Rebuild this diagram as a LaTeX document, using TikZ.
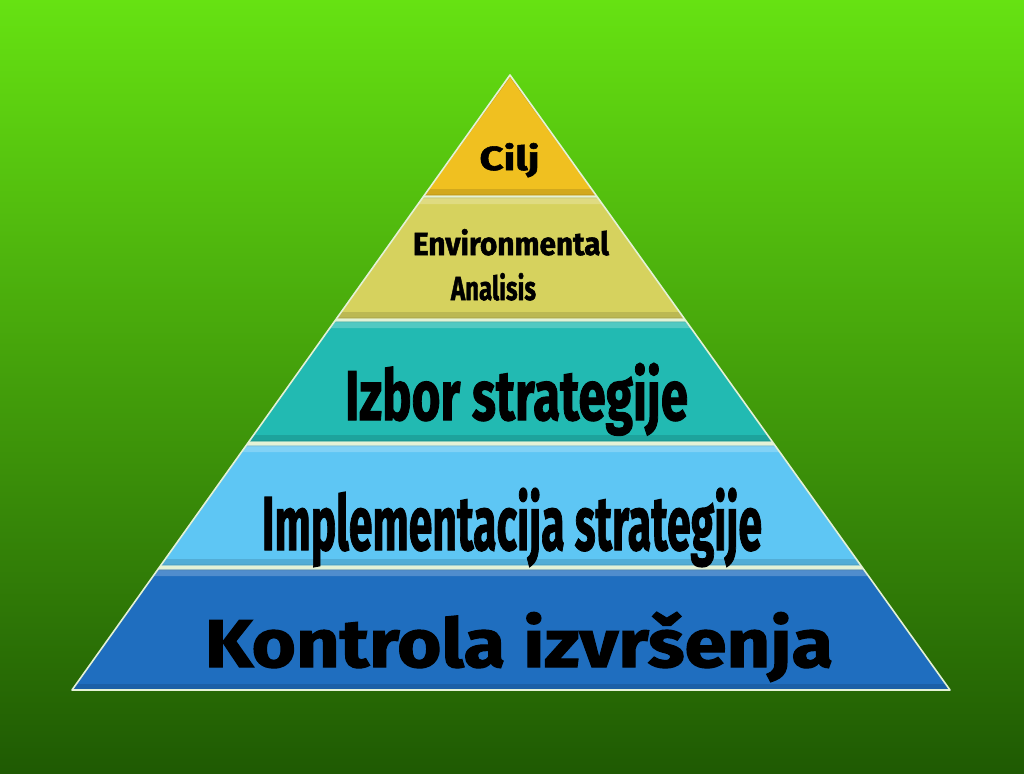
\documentclass[tikz,border=0pt]{standalone}
\usepackage{fontspec}
\setmainfont{Fira Sans}[BoldFeatures={FakeBold=1.6}]
\usepackage{graphicx}
\definecolor{bgtop}{HTML}{66E212}
\definecolor{bgmid}{HTML}{42AC16}
\definecolor{bgbot}{HTML}{1F5A03}
\definecolor{edge}{HTML}{E4F2D6}
\definecolor{cCilj}{HTML}{F0C020}
\definecolor{cEnv}{HTML}{D6D25E}
\definecolor{cIzb}{HTML}{22BAB2}
\definecolor{cImp}{HTML}{5EC6F4}
\definecolor{cKon}{HTML}{1F6EBF}
\begin{document}
\begin{tikzpicture}[x=1pt,y=-1pt,
  lbl/.style={inner sep=0pt, anchor=base, text=black, font=\bfseries},
  layer/.style={fill=#1, draw=#1!85!black, line width=0.6pt},
  hilite/.style={fill=white, fill opacity=0.22, draw=none},
  shadow/.style={fill=black, fill opacity=0.12, draw=none}]
\useasboundingbox (0,0) rectangle (1024,773);
\shade[top color=bgtop, middle color=bgmid, bottom color=bgbot] (0,0) rectangle (1024,773);
% white base of pyramid (gaps)
\fill[edge] (510,75) -- (950,690) -- (72,690) -- cycle;
% layers
\path[layer=cCilj] (510,77) -- (595.9,195) -- (424.5,195) -- cycle;
\path[layer=cEnv] (422.4,198) -- (598.0,198) -- (683.8,318) -- (336.9,318) -- cycle;
\path[layer=cIzb] (334.1,322) -- (686.7,322) -- (771.8,441) -- (249.3,441) -- cycle;
\path[layer=cImp] (245.8,446) -- (775.4,446) -- (860.5,565) -- (161.0,565) -- cycle;
\path[layer=cKon] (157.5,570) -- (864.1,570) -- (950,690) -- (72,690) -- cycle;
% bevel highlights and shadows
\path[hilite] (422.4,198) -- (598.0,198) -- (602.3,204) -- (418.1,204) -- cycle;
\path[hilite] (334.1,322) -- (686.7,322) -- (691.0,328) -- (329.8,328) -- cycle;
\path[hilite] (245.8,446) -- (775.4,446) -- (779.7,452) -- (241.5,452) -- cycle;
\path[hilite] (157.5,570) -- (864.1,570) -- (868.4,576) -- (153.2,576) -- cycle;
\path[shadow] (428.8,189) -- (591.6,189) -- (595.9,195) -- (424.5,195) -- cycle;
\path[shadow] (341.2,312) -- (679.5,312) -- (683.8,318) -- (336.9,318) -- cycle;
\path[shadow] (253.6,435) -- (767.5,435) -- (771.8,441) -- (249.3,441) -- cycle;
\path[shadow] (165.3,559) -- (856.2,559) -- (860.5,565) -- (161.0,565) -- cycle;
\path[shadow] (76.3,684) -- (945.7,684) -- (950,690) -- (72,690) -- cycle;
% outline
\draw[edge, line width=1.6pt, line join=round] (510,75) -- (950,690) -- (72,690) -- cycle;
% labels
\node[lbl] (cilj) at (509.5,170) {\resizebox{60pt}{27pt}{Cilj}};
\node[lbl] (env) at (511,255) {\resizebox{196pt}{26pt}{Environmental}};
\node[lbl] (anal) at (493.5,300) {\resizebox{85pt}{27pt}{Analisis}};
\node[lbl] (izbor) at (516.5,420) {\resizebox{343pt}{57pt}{Izbor strategije}};
\node[lbl] (impl) at (512,550) {\resizebox{500pt}{62pt}{Implementacija strategije}};
\node[lbl] (kontr) at (519,667) {\resizebox{628pt}{55pt}{Kontrola izvršenja}};
\end{tikzpicture}
\end{document}
